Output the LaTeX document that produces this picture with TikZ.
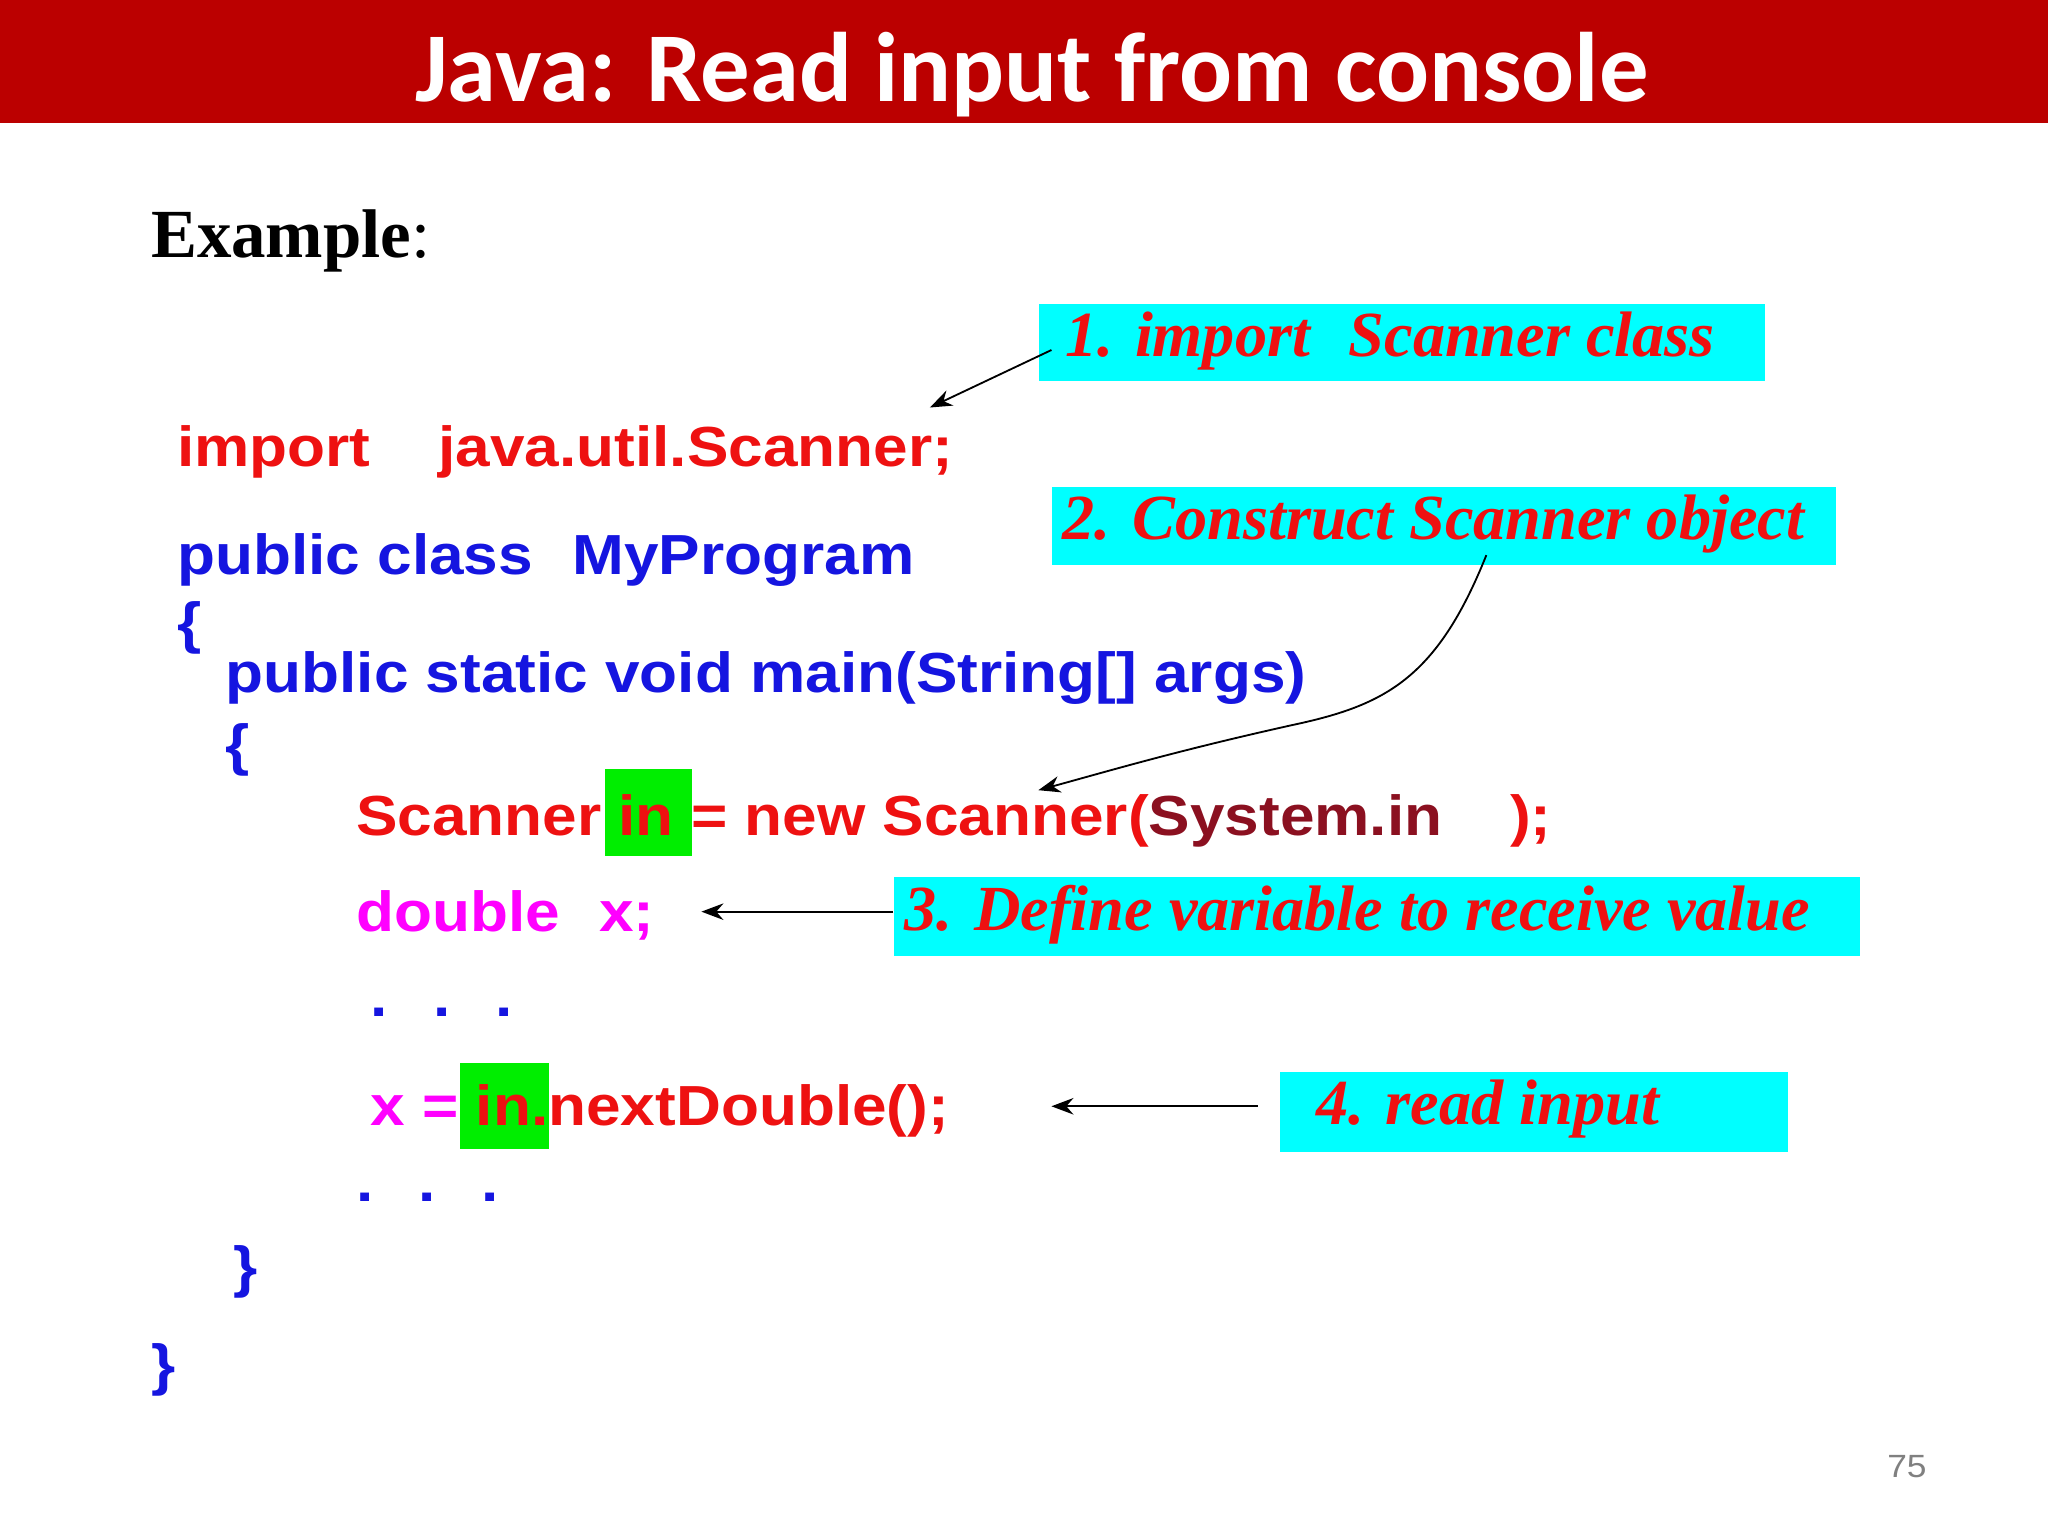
\documentclass[tikz,border=0pt]{standalone}
\usepackage{fontspec}
\setmainfont{Liberation Serif}
\newfontfamily\titlefont{Carlito}
\newfontfamily\codefont[FakeStretch=1.1]{Liberation Sans}
\usetikzlibrary{positioning,arrows.meta}
\definecolor{barred}{HTML}{BB0000}
\definecolor{codered}{HTML}{EE1111}
\definecolor{codeblue}{HTML}{1515E0}
\definecolor{codemag}{HTML}{FF00FF}
\definecolor{codedark}{HTML}{8B1020}
\definecolor{hlgreen}{HTML}{00EE00}
\definecolor{callcyan}{HTML}{00FFFF}
\tikzset{
  code/.style={anchor=base west,inner sep=0pt,font=\codefont\bfseries\fontsize{12.3}{14}\selectfont},
  callbox/.style={fill=callcyan,inner sep=0pt,anchor=north west},
  calltext/.style={anchor=west,inner sep=0pt,text=codered,
    font=\bfseries\itshape\fontsize{14}{16}\selectfont},
}
\begin{document}
\begin{tikzpicture}[x=0.01cm,y=-0.01cm,>=Stealth]
    \useasboundingbox (0,0) rectangle (1568,1176);
    \fill[barred] (0,0) rectangle (1568,94);
    \node[text=white,font=\titlefont\bfseries\fontsize{21.5}{24}\selectfont,anchor=base] (title) at (790,78) {Java: Read input from console};
    \node[anchor=base west,inner sep=0pt,font=\bfseries\fontsize{15}{18}\selectfont] (ex) at (115,197) {Example\textmd{:}};

    % highlights
    \fill[hlgreen] (463,589) rectangle (530,655);
    \fill[hlgreen] (352,814) rectangle (420,880);

    % code
    \node[code,text=codered] (l1) at (135,357) {import\hspace{1.2em}java.util.Scanner;};
    \node[code,text=codeblue] (l2) at (135,440) {public class\hspace{0.7em}MyProgram};
    \node[code,text=codeblue] (l3) at (135,492) {\{};
    \node[code,text=codeblue] (l4) at (172,530) {public static void main(String[] args)};
    \node[code,text=codeblue] (l5) at (172,585) {\{};
    \node[code,text=codered] (l6) at (272,640) {Scanner in = new Scanner(\textcolor{codedark}{System.in}\hspace{1.2em});};
    \node[code,text=codemag] (l7) at (272,713) {double\hspace{0.7em}x;};
    \node[code,text=codeblue] (l8) at (283,778) {.\hspace{0.8em}.\hspace{0.8em}.};
    \node[code,text=codemag] (l9) at (283,862) {x = \textcolor{codered}{in.nextDouble();}};
    \node[code,text=codeblue] (l10) at (272,920) {.\hspace{0.8em}.\hspace{0.8em}.};
    \node[code,text=codeblue] (l11) at (178,985) {\}};
    \node[code,text=codeblue] (l12) at (115,1060) {\}};

    % callouts
    \node[callbox,minimum width=5.55cm,minimum height=0.59cm] (c1) at (795,232) {};
    \node[calltext] (c1t) at (815,261) {1. import\hspace{0.6em}Scanner class};
    \node[callbox,minimum width=6.0cm,minimum height=0.6cm] (c2) at (805,372) {};
    \node[calltext] (c2t) at (813,401) {2. Construct Scanner object};
    \node[callbox,minimum width=7.39cm,minimum height=0.6cm] (c3) at (684,671) {};
    \node[calltext] (c3t) at (692,700) {3. Define variable to receive value};
    \node[callbox,minimum width=3.89cm,minimum height=0.61cm] (c4) at (979,820) {};
    \node[calltext] (c4t) at (1007,849) {4. read input};

    \coordinate (t1) at (712,312);
    \coordinate (t2) at (795,605);
    \coordinate (t3) at (537,698);
    \coordinate (t4) at (805,847);
    \draw[->] (805,268) -- (t1);
    \draw[->] (1138,425) .. controls (1100,520) and (1060,540) .. (990,555) .. controls (900,575) and (850,590) .. (t2);
    \draw[->] (c3.west |- t3) -- (t3);
    \draw[->] (963,847) -- (t4);

    \node[text=gray,font=\codefont\fontsize{7}{8}\selectfont] (pg) at (1460,1123) {75};
\end{tikzpicture}
\end{document}
